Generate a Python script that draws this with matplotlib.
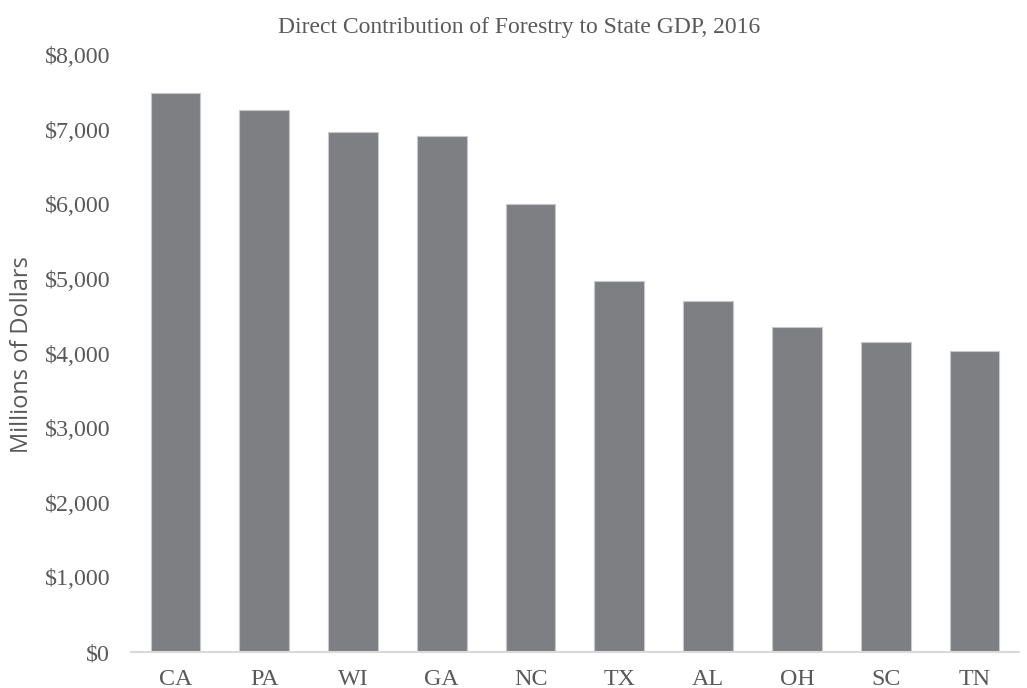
import matplotlib
matplotlib.use("Agg")
import matplotlib.pyplot as plt
from matplotlib.ticker import FuncFormatter

states = ["CA", "PA", "WI", "GA", "NC", "TX", "AL", "OH", "SC", "TN"]
gdp_millions = [7490, 7265, 6965, 6915, 6000, 4970, 4710, 4355, 4150, 4040]

BAR_COLOR = "#7e7f83"
TEXT_COLOR = "#595959"

fig = plt.figure(figsize=(10.27, 6.88), dpi=100)
ax = fig.add_axes([0.1276, 0.0523, 0.8645, 0.8677])

ax.bar(range(len(states)), gdp_millions, width=0.56, color=BAR_COLOR,
       edgecolor="#c8c8ca", linewidth=0.8)

ax.set_xlim(-0.5, len(states) - 0.5)
ax.set_ylim(0, 8000)
ax.set_yticks(range(0, 8001, 1000))
ax.yaxis.set_major_formatter(FuncFormatter(lambda v, _: f"${v:,.0f}"))
ax.set_xticks(range(len(states)))
ax.set_xticklabels(states)

for side in ("top", "right", "left"):
    ax.spines[side].set_visible(False)
ax.spines["bottom"].set_color("#d9d9d9")
ax.spines["bottom"].set_linewidth(1.5)
ax.tick_params(length=0, labelcolor=TEXT_COLOR, labelsize=17.3)
ax.tick_params(axis="y", pad=15)
ax.tick_params(axis="x", pad=12)
for lbl in ax.get_xticklabels() + ax.get_yticklabels():
    lbl.set_family("Liberation Serif")

fig.text(0.021, 0.484, "Millions of Dollars", family="Open Sans", fontsize=17,
         color=TEXT_COLOR, rotation=90, ha="center", va="center")
fig.suptitle("Direct Contribution of Forestry to State GDP, 2016",
             family="Liberation Serif", fontsize=17, color=TEXT_COLOR,
             x=0.505, y=0.975)

fig.savefig("out.png", dpi=100)
